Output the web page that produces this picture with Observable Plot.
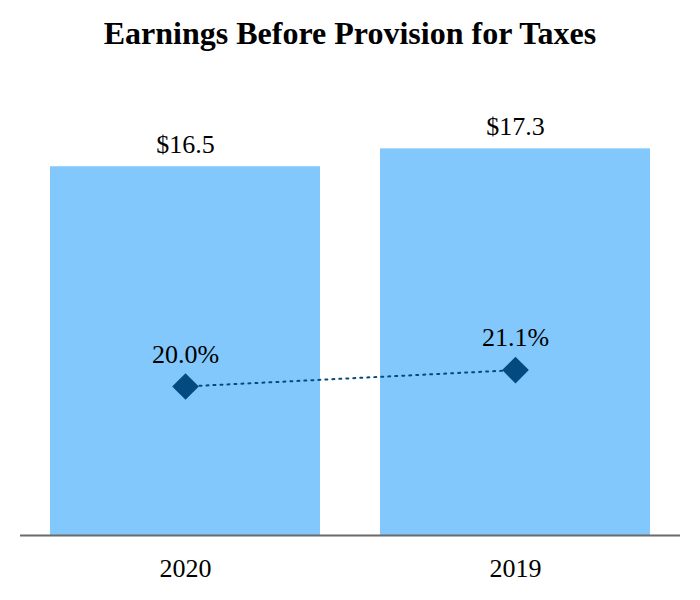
<!DOCTYPE html>
<html>
<head>
<meta charset="utf-8">
<script src="https://cdn.jsdelivr.net/npm/d3@7"></script>
<script src="https://cdn.jsdelivr.net/npm/@observablehq/plot@0.6"></script>
<style>
  html, body { margin: 0; padding: 0; background: #fff; }
  #title {
    box-sizing: border-box;
    height: 70px;
    padding-top: 17px;
    font-family: "Liberation Serif", "Times New Roman", serif;
    font-weight: bold;
    font-size: 32px;
    line-height: 32px;
    text-align: center;
    color: #000;
    width: 700px;
  }
  #chart svg text { font-family: "Liberation Serif", "Times New Roman", serif !important; }
</style>
</head>
<body>
<div id="title">Earnings Before Provision for Taxes</div>
<div id="chart"></div>
<script>
// Data
const years = ["2020", "2019"];
const earnings = [16.5, 17.3];          // $ (billions)
const earningsLabels = ["$16.5", "$17.3"];
const taxRates = [20.0, 21.1];          // % effective tax rate
const taxRateLabels = ["20.0%", "21.1%"];
const earningsDomain = [0, 20];         // primary (hidden) axis
const taxRateDomain = [10, 40];         // secondary (hidden) axis

const data = years.map((year, i) => ({
  year,
  earnings: earnings[i],
  earningsLabel: earningsLabels[i],
  rate: taxRates[i],
  rateLabel: taxRateLabels[i]
}));

// secondary axis mapped onto the primary y scale
const rateToY = d3.scaleLinear().domain(taxRateDomain).range(earningsDomain);

const navy = "#024a80";
const font = "'Liberation Serif', 'Times New Roman', serif";

const chart = Plot.plot({
  width: 700,
  height: 530,
  marginTop: 18,
  marginBottom: 65,
  marginLeft: 20,
  marginRight: 20,
  style: { fontFamily: font, fontSize: "26px", color: "#000", background: "#fff" },
  x: {
    domain: years,
    paddingInner: 0.182,
    paddingOuter: 0.091,
    label: null,
    tickSize: 0,
    tickPadding: 23
  },
  y: { domain: earningsDomain, axis: null },
  marks: [
    Plot.barY(data, { x: "year", y: "earnings", fill: "#82c8fd" }),
    Plot.ruleY([0], { stroke: "#6b6b6b", strokeWidth: 2 }),
    Plot.text(data, {
      x: "year", y: "earnings", text: "earningsLabel",
      lineAnchor: "bottom", dy: -14, fontSize: 26, fontFamily: font, fill: "#000"
    }),
    Plot.line(data, {
      x: "year", y: d => rateToY(d.rate),
      stroke: navy, strokeWidth: 2, strokeDasharray: "2,5"
    }),
    Plot.dot(data, {
      x: "year", y: d => rateToY(d.rate),
      symbol: "diamond2", r: 12, fill: navy, stroke: "none"
    }),
    Plot.text(data, {
      x: "year", y: d => rateToY(d.rate), text: "rateLabel",
      lineAnchor: "bottom", dy: -24, fontSize: 26, fontFamily: font, fill: "#000"
    })
  ]
});

document.getElementById("chart").appendChild(chart);
</script>
</body>
</html>
